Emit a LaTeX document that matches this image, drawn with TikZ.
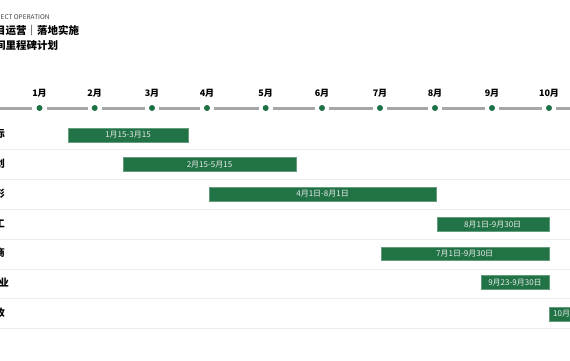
\documentclass[tikz,border=0pt]{standalone}
\usepackage{fontspec}
\newfontfamily\cjk{Noto Sans CJK SC}
\setmainfont{Noto Sans CJK SC}
\definecolor{bargreen}{HTML}{217346}
\definecolor{dotgreen}{HTML}{1E7145}
\definecolor{tlgray}{HTML}{A6A6A6}
\definecolor{sepgray}{HTML}{EDEDED}
\tikzset{
  bar/.style={fill=bargreen, draw=bargreen!70!white, line width=0.4pt},
  bartext/.style={text=white!92!black, font=\cjk\fontsize{8}{9}\selectfont, inner sep=0pt},
  month/.style={font=\cjk\bfseries\fontsize{9}{10}\selectfont, inner sep=0pt},
  rowlabel/.style={font=\cjk\bfseries\fontsize{10}{11}\selectfont, inner sep=0pt, anchor=east},
  sep/.style={draw=sepgray, line width=1pt},
  tl/.style={draw=tlgray, line width=3pt},
  tdot/.style={circle, fill=dotgreen, minimum size=6pt, inner sep=0pt}
}
\begin{document}
\begin{tikzpicture}[x=1pt,y=-1pt]
\useasboundingbox (0,0) rectangle (570,360);
\fill[white] (0,0) rectangle (570,360);
\clip (0,0) rectangle (570,360);
% titles
\node[anchor=west, inner sep=0pt, text=black!75, font=\fontsize{6.5}{7}\selectfont] (t1) at (-3,17) {JECT OPERATION};
\node[anchor=west, inner sep=0pt, font=\cjk\bfseries\fontsize{10.5}{11}\selectfont] (t2) at (-5,31) {目运营｜落地实施};
\node[anchor=west, inner sep=0pt, font=\cjk\bfseries\fontsize{10.5}{11}\selectfont] (t3) at (-5,46) {间里程碑计划};
% timeline
\coordinate (tl0) at (0,108);
\coordinate (tlE) at (572,108);
\foreach \i/\x in {1/39.5,2/94.7,3/152,4/207,5/265.7,6/322,7/380,8/435,9/492,10/549}{
  \node[tdot] (d\i) at (\x,108) {};
  \node[month] (m\i) at (\x,93) {\i 月};
}
\draw[tl] (tl0) -- ([xshift=-4pt]d1.west);
\foreach \a/\b in {1/2,2/3,3/4,4/5,5/6,6/7,7/8,8/9,9/10}{
  \draw[tl] ([xshift=4pt]d\a.east) -- ([xshift=-4pt]d\b.west);
}
\draw[tl] ([xshift=4pt]d10.east) -- (tlE);
% separators
\foreach \y [count=\k] in {149,179,209,239,269,298,328}{
  \coordinate (sL\k) at (0,\y);
  \coordinate (sR\k) at (570,\y);
  \draw[sep] (sL\k) -- (sR\k);
}
% row labels
\node[rowlabel] (r1) at (5,134) {标};
\node[rowlabel] (r2) at (5,164) {划};
\node[rowlabel] (r3) at (5,194) {形};
\node[rowlabel] (r4) at (5,224) {工};
\node[rowlabel] (r5) at (5,253) {商};
\node[rowlabel] (r6) at (9,283) {业};
\node[rowlabel] (r7) at (5,313) {收};
% bars
\draw[bar] (67.7,128.3) rectangle (188.3,141.7);
\node[bartext] (b1) at (128,135) {1月15-3月15};
\draw[bar] (123,157.3) rectangle (296,171);
\node[bartext] (b2) at (209.5,164.2) {2月15-5月15};
\draw[bar] (209.3,187) rectangle (436,200.7);
\node[bartext] (b3) at (322.6,193.9) {4月1日-8月1日};
\draw[bar] (436.7,217.3) rectangle (548.7,231);
\node[bartext] (b4) at (492.7,224.2) {8月1日-9月30日};
\draw[bar] (380.7,247) rectangle (548.7,260.3);
\node[bartext] (b5) at (464.7,253.7) {7月1日-9月30日};
\draw[bar] (481.3,275.3) rectangle (548.7,289);
\node[bartext] (b6) at (515,282.2) {9月23-9月30日};
\draw[bar] (549.3,306.7) rectangle (620,321);
\node[bartext, anchor=west] (b7) at (553,313.9) {10月1日-10月30日};
\end{tikzpicture}
\end{document}
